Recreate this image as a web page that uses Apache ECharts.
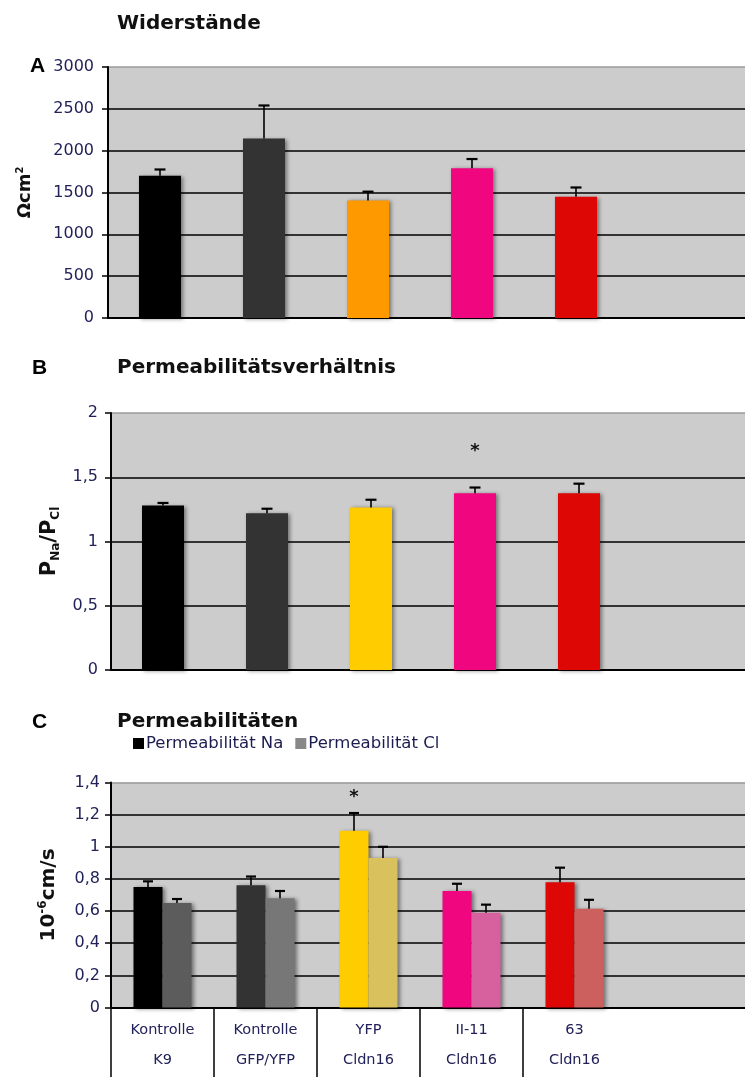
<!DOCTYPE html>
<html>
<head>
<meta charset="utf-8">
<script src="https://cdn.jsdelivr.net/npm/echarts@6/dist/echarts.min.js"></script>
<style>
  html, body { margin: 0; padding: 0; background: #ffffff; }
  #chart { width: 745px; height: 1077px; }
</style>
</head>
<body>
<div id="chart"></div>
<script>
// Cell lines (two-line category labels, shown as a table under panel C)
const groups = ['Kontrolle\nK9', 'Kontrolle\nGFP/YFP', 'YFP\nCldn16', 'II-11\nCldn16', '63\nCldn16'];

// Panel A: transepithelial resistance (Ω·cm²), mean and SEM
const resistance    = [1700, 2145, 1405, 1790, 1450];
const resistanceErr = [75, 395, 105, 110, 110];

// Panel B: permeability ratio PNa/PCl
const ratio    = [1.28, 1.22, 1.265, 1.375, 1.375];
const ratioErr = [0.02, 0.035, 0.06, 0.045, 0.075];
const ratioSig = [null, null, null, 1.70, null];

// Panel C: absolute permeabilities (10^-6 cm/s)
const permNa    = [0.75, 0.76, 1.10, 0.725, 0.78];
const permNaErr = [0.035, 0.055, 0.11, 0.045, 0.09];
const permCl    = [0.65, 0.68, 0.93, 0.59, 0.615];
const permClErr = [0.025, 0.045, 0.07, 0.05, 0.055];
const permSig   = [null, null, 1.31, null, null];

// Tick definitions for the three value axes
const ticksA = { min: 0, max: 3000, interval: 500 };
const ticksB = { min: 0, max: 2, interval: 0.5 };
const ticksC = { min: 0, max: 1.4, interval: 0.2 };

// Colours per cell line
const colorsA  = ['#000000', '#333333', '#ff9900', '#f0077f', '#dd0806'];
const colorsB  = ['#000000', '#333333', '#ffcc00', '#f0077f', '#dd0806'];
const colorsNa = ['#000000', '#333333', '#ffcc00', '#f0077f', '#dd0806'];
const colorsCl = ['#5c5c5c', '#777777', '#d9c15e', '#d6619e', '#cc605f'];

// Two empty slots keep the plot running past the last group to the page edge
const cats = groups.concat(['', '']);

const FONT = 'DejaVu Sans';
const TICK_COLOR = '#22225a';
const shadow = { shadowColor: 'rgba(0,0,0,0.45)', shadowBlur: 4, shadowOffsetX: 2, shadowOffsetY: 1 };

function comma(v) { return String(v).replace('.', ','); }

function splitColors(t) {
  const n = Math.round((t.max - t.min) / t.interval) + 1;
  const arr = [];
  for (let i = 0; i < n; i++) arr.push(i === n - 1 ? '#9a9a9a' : '#000000');
  return arr;
}

function valueAxis(idx, t, labelMargin, name, gap, rich) {
  return {
    type: 'value', gridIndex: idx, min: t.min, max: t.max, interval: t.interval,
    axisLine: { show: true, lineStyle: { color: '#000', width: 2 } },
    axisTick: { show: true, length: 6, lineStyle: { color: '#000', width: 1.5 } },
    axisLabel: { formatter: comma, fontFamily: FONT, fontSize: 16, color: TICK_COLOR, margin: labelMargin },
    splitLine: { show: true, lineStyle: { color: splitColors(t), width: 1.6 } },
    name: name, nameLocation: 'middle', nameRotate: 90, nameGap: gap,
    nameTextStyle: { rich: rich }
  };
}

function coloredBars(vals, colors) {
  return vals.map((v, i) => ({ value: v, itemStyle: { color: colors[i] } }));
}

function errorBars(axisIdx, vals, errs, offset, cap) {
  return {
    type: 'custom', xAxisIndex: axisIdx, yAxisIndex: axisIdx, z: 5, silent: true,
    data: vals.map((v, i) => [i, v, v + errs[i]]),
    renderItem: function (params, api) {
      const base = api.coord([api.value(0), api.value(1)]);
      const top = api.coord([api.value(0), api.value(2)]);
      const x = base[0] + offset;
      return {
        type: 'group',
        children: [
          { type: 'line', shape: { x1: x, y1: base[1], x2: x, y2: top[1] }, style: { stroke: '#000', lineWidth: 1.6 } },
          { type: 'line', shape: { x1: x - cap, y1: top[1], x2: x + cap, y2: top[1] }, style: { stroke: '#000', lineWidth: 2.2 } }
        ]
      };
    }
  };
}

function stars(axisIdx, sig, offset) {
  const data = [];
  sig.forEach((v, i) => { if (v !== null) data.push([i, v]); });
  return {
    type: 'custom', xAxisIndex: axisIdx, yAxisIndex: axisIdx, z: 6, silent: true,
    data: data,
    renderItem: function (params, api) {
      const p = api.coord([api.value(0), api.value(1)]);
      return {
        type: 'text',
        style: { x: p[0] + offset, y: p[1], text: '*', fill: '#111', font: 'bold 18px ' + FONT, align: 'center', verticalAlign: 'middle' }
      };
    }
  };
}

const nameBold = { fontFamily: FONT, fontWeight: 'bold', color: '#111' };
const headStyle = { fontFamily: FONT, fontWeight: 'bold', fontSize: 20, color: '#111' };
const letterStyle = { fontFamily: 'Liberation Sans', fontWeight: 'bold', fontSize: 21, color: '#000' };

const option = {
  animation: false,
  backgroundColor: '#ffffff',
  title: [
    { text: 'Widerstände', left: 117, top: 14, padding: 0, textStyle: headStyle },
    { text: 'A', left: 30, top: 56, padding: 0, textStyle: letterStyle },
    { text: 'Permeabilitätsverhältnis', left: 117, top: 358, padding: 0, textStyle: headStyle },
    { text: 'B', left: 32, top: 358, padding: 0, textStyle: letterStyle },
    { text: 'Permeabilitäten', left: 117, top: 712, padding: 0, textStyle: headStyle },
    { text: 'C', left: 32, top: 712, padding: 0, textStyle: letterStyle }
  ],
  legend: {
    data: ['Permeabilität Na', 'Permeabilität Cl'],
    left: 133, top: 735, padding: 0, itemGap: 12, itemWidth: 11, itemHeight: 11, icon: 'rect',
    itemStyle: { shadowBlur: 0, shadowOffsetX: 0, shadowOffsetY: 0 },
    textStyle: { fontFamily: FONT, fontSize: 16.5, color: '#1c1c50', padding: [0, 0, 0, -3] }
  },
  grid: [
    { left: 108, top: 67, width: 104 * 7, height: 251, show: true, backgroundColor: '#cccccc', borderWidth: 0, outerBoundsMode: 'none' },
    { left: 111, top: 413, width: 104 * 7, height: 257, show: true, backgroundColor: '#cccccc', borderWidth: 0, outerBoundsMode: 'none' },
    { left: 111, top: 782.5, width: 103 * 7, height: 225, show: true, backgroundColor: '#cccccc', borderWidth: 0, outerBoundsMode: 'none' }
  ],
  xAxis: [
    { type: 'category', gridIndex: 0, data: cats, axisLine: { lineStyle: { color: '#000', width: 2 } }, axisTick: { show: false }, axisLabel: { show: false } },
    { type: 'category', gridIndex: 1, data: cats, axisLine: { lineStyle: { color: '#000', width: 2 } }, axisTick: { show: false }, axisLabel: { show: false } },
    {
      type: 'category', gridIndex: 2, data: cats,
      axisLine: { lineStyle: { color: '#000', width: 2 } },
      axisTick: { show: true, length: 72, interval: function (i) { return i < 5; }, lineStyle: { color: '#000', width: 1.5 } },
      axisLabel: { interval: 0, fontFamily: FONT, fontSize: 14.5, color: TICK_COLOR, lineHeight: 30, margin: 8 }
    }
  ],
  yAxis: [
    valueAxis(0, ticksA, 14, '{b|Ωcm}{s|2}', 72, {
      b: Object.assign({ fontSize: 18, lineHeight: 21 }, nameBold),
      s: Object.assign({ fontSize: 10, lineHeight: 12, verticalAlign: 'top' }, nameBold)
    }),
    valueAxis(1, ticksB, 13, '{p|P}{s|Na}{p|/P}{s|Cl}', 47, {
      p: Object.assign({ fontSize: 21, lineHeight: 24 }, nameBold),
      s: Object.assign({ fontSize: 12, lineHeight: 12, verticalAlign: 'bottom' }, nameBold)
    }),
    valueAxis(2, ticksC, 11, '{b|10}{s|-6}{b|cm/s}', 50, {
      b: Object.assign({ fontSize: 20, lineHeight: 24 }, nameBold),
      s: Object.assign({ fontSize: 12, lineHeight: 12, verticalAlign: 'top' }, nameBold)
    })
  ],
  series: [
    { name: 'Widerstand', type: 'bar', xAxisIndex: 0, yAxisIndex: 0, barWidth: 42, data: coloredBars(resistance, colorsA), itemStyle: shadow },
    errorBars(0, resistance, resistanceErr, 0, 5.5),

    { name: 'PNa/PCl', type: 'bar', xAxisIndex: 1, yAxisIndex: 1, barWidth: 42, data: coloredBars(ratio, colorsB), itemStyle: shadow },
    errorBars(1, ratio, ratioErr, 0, 5.5),
    stars(1, ratioSig, 0),

    { name: 'Permeabilität Na', type: 'bar', xAxisIndex: 2, yAxisIndex: 2, barWidth: 29, barGap: '0%',
      data: coloredBars(permNa, colorsNa), itemStyle: Object.assign({ color: '#000000' }, shadow) },
    { name: 'Permeabilität Cl', type: 'bar', xAxisIndex: 2, yAxisIndex: 2, barWidth: 29, barGap: '0%',
      data: coloredBars(permCl, colorsCl), itemStyle: Object.assign({ color: '#888888' }, shadow) },
    errorBars(2, permNa, permNaErr, -14.5, 5),
    errorBars(2, permCl, permClErr, 14.5, 5),
    stars(2, permSig, -14.5)
  ]
};

const chart = echarts.init(document.getElementById('chart'), null, { renderer: 'canvas' });
chart.setOption(option);
</script>
</body>
</html>
